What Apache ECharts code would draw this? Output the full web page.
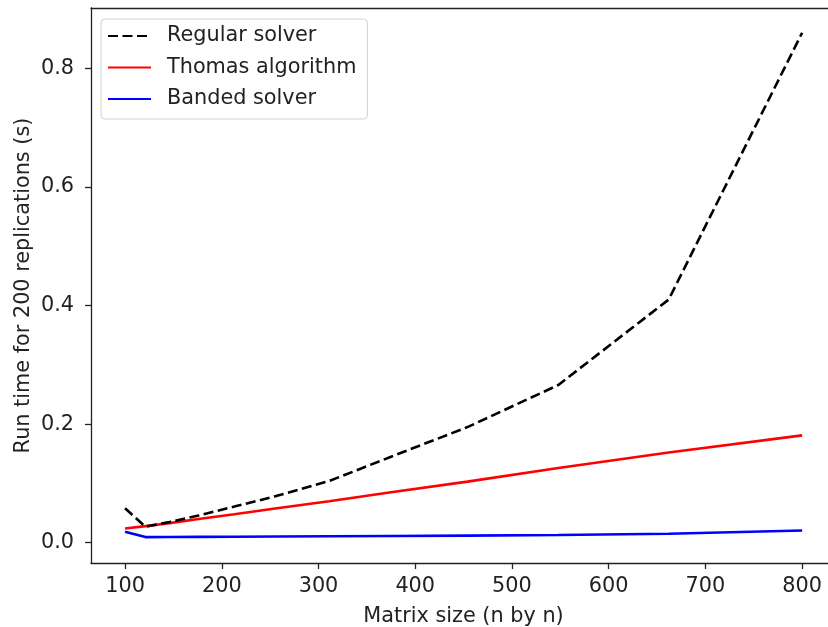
<!DOCTYPE html>
<html>
<head>
<meta charset="utf-8">
<script src="https://cdn.jsdelivr.net/npm/echarts@6/dist/echarts.min.js"></script>
<style>
  html, body { margin: 0; padding: 0; background: #fff; }
  #chart { width: 828px; height: 627px; }
</style>
</head>
<body>
<div id="chart"></div>
<script>
// Matrix sizes (n by n) used in the timing runs
const matrixSizes = [100, 121, 146, 176, 213, 257, 311, 375, 454, 548, 662, 800];

// Run time (s) for 200 replications
const regularSolver = [0.058, 0.027, 0.035, 0.046, 0.061, 0.079, 0.104, 0.145, 0.195, 0.266, 0.410, 0.860];
const thomasAlgorithm = [0.024, 0.028, 0.033, 0.040, 0.048, 0.058, 0.070, 0.085, 0.103, 0.126, 0.152, 0.181];
const bandedSolver = [0.0185, 0.0095, 0.0097, 0.0099, 0.0101, 0.0104, 0.0108, 0.0113, 0.0120, 0.0130, 0.0150, 0.0205];

// Tick positions
const xTicks = [100, 200, 300, 400, 500, 600, 700, 800];
const yTicks = [0, 0.2, 0.4, 0.6, 0.8];

const FONT = 'DejaVu Sans';
const FONT_SIZE = 20.8;
const INK = '#222';
const X_MIN = 64.8, X_MAX = 835;
const Y_MIN = -0.0342, Y_MAX = 0.9017;

const pairs = ys => matrixSizes.map((x, i) => [x, ys[i]]);

const spine = { show: true, onZero: false, lineStyle: { color: INK, width: 1.3 } };
const tick = { show: true, inside: false, length: 6, lineStyle: { color: INK, width: 1.3 } };
const labelText = { fontFamily: FONT, fontSize: FONT_SIZE, color: INK };

const chart = echarts.init(document.getElementById('chart'), null, { renderer: 'canvas' });

chart.setOption({
  animation: false,
  backgroundColor: '#fff',
  grid: { left: 91, top: 8, width: 745, height: 555, show: false, outerBoundsMode: 'none', containLabel: false },
  legend: {
    orient: 'vertical',
    left: 101, top: 19,
    padding: [6, 11, 9, 6],
    itemGap: 9.5,
    itemWidth: 43,
    itemHeight: 14,
    backgroundColor: '#fff',
    borderColor: '#d0d0d0',
    borderWidth: 1,
    borderRadius: 4,
    itemStyle: { color: 'transparent', borderColor: 'transparent', borderWidth: 0, opacity: 0 },
    textStyle: Object.assign({}, labelText, { padding: [0, 0, 0, 11], lineHeight: 22 }),
    data: ['Regular solver', 'Thomas algorithm', 'Banded solver']
  },
  xAxis: [
    {
      type: 'value',
      min: X_MIN, max: X_MAX,
      position: 'bottom',
      name: 'Matrix size (n by n)',
      nameLocation: 'middle',
      nameGap: 43,
      nameMoveOverlap: false,
      nameTextStyle: labelText,
      axisLine: spine,
      axisTick: Object.assign({}, tick, { customValues: xTicks }),
      axisLabel: Object.assign({ customValues: xTicks, margin: 13 }, labelText),
      splitLine: { show: false }
    },
    {
      // top frame line
      type: 'value',
      min: X_MIN, max: X_MAX,
      position: 'top',
      axisLine: spine,
      axisTick: { show: false },
      axisLabel: { show: false },
      splitLine: { show: false }
    }
  ],
  yAxis: {
    type: 'value',
    min: Y_MIN, max: Y_MAX,
    name: 'Run time for 200 replications (s)',
    nameLocation: 'middle',
    nameRotate: 90,
    nameGap: 57,
    nameMoveOverlap: false,
    nameTextStyle: labelText,
    axisLine: spine,
    axisTick: Object.assign({}, tick, { customValues: yTicks }),
    axisLabel: Object.assign({ customValues: yTicks, margin: 17, formatter: v => v.toFixed(1) }, labelText),
    splitLine: { show: false }
  },
  series: [
    {
      name: 'Regular solver', type: 'line', symbol: 'none', z: 3,
      data: pairs(regularSolver),
      itemStyle: { color: '#000' },
      lineStyle: { color: '#000', width: 2.6, type: [10, 4.5] }
    },
    {
      name: 'Thomas algorithm', type: 'line', symbol: 'none', z: 2,
      data: pairs(thomasAlgorithm),
      itemStyle: { color: '#ff0000' },
      lineStyle: { color: '#ff0000', width: 2.6 }
    },
    {
      name: 'Banded solver', type: 'line', symbol: 'none', z: 2,
      data: pairs(bandedSolver),
      itemStyle: { color: '#0000ff' },
      lineStyle: { color: '#0000ff', width: 2.6 }
    }
  ]
});
</script>
</body>
</html>
